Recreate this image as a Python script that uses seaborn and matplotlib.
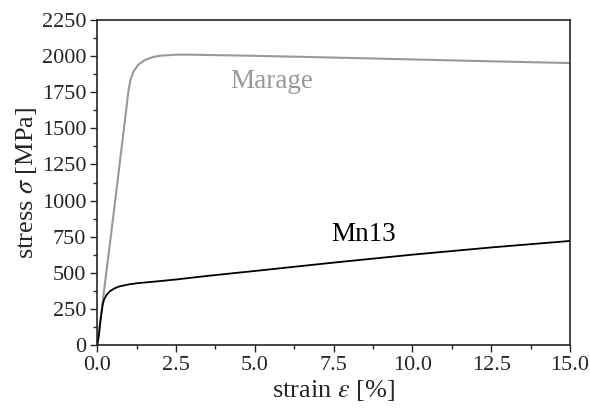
import pandas as pd
import matplotlib.pyplot as plt
import seaborn as sns
from matplotlib.ticker import MultipleLocator

# Data
marage_strain = [0, 0.5, 0.9, 0.98, 1.05, 1.15, 1.3, 1.5, 1.75, 2.0, 2.5, 3.0, 5.0, 7.5, 10.0, 12.5, 15.0]
marage_stress = [0, 880, 1600, 1750, 1835, 1895, 1942, 1973, 1994, 2004, 2011, 2011, 2003, 1991, 1978, 1965, 1953]

mn13_strain = [0, 0.05, 0.1, 0.17, 0.22, 0.3, 0.4, 0.55, 0.7, 1.0, 1.3, 2.0, 2.5, 3.5, 5.0, 7.5, 10.0, 12.5, 15.0]
mn13_stress = [0, 70, 170, 280, 318, 348, 372, 392, 405, 419, 428, 442, 453, 478, 512, 570, 625, 675, 720]

marage = pd.DataFrame({"strain": marage_strain, "stress": marage_stress})
mn13 = pd.DataFrame({"strain": mn13_strain, "stress": mn13_stress})

sns.set_style("ticks")
plt.rcParams["font.family"] = ["Liberation Serif", "DejaVu Serif"]
plt.rcParams["mathtext.fontset"] = "stix"

fig, ax = plt.subplots(figsize=(5.9, 4.12), dpi=100)
sns.lineplot(data=marage, x="strain", y="stress", color="#999999", linewidth=1.5, ax=ax)
sns.lineplot(data=mn13, x="strain", y="stress", color="black", linewidth=1.3, ax=ax)

ax.text(5.55, 1825, "Marage", color="#999999", fontsize=19.5, ha="center", va="center")
ax.text(8.45, 765, "Mn13", color="black", fontsize=19.5, ha="center", va="center")

ax.set_xlim(0, 15)
ax.set_ylim(0, 2250)
ax.xaxis.set_major_locator(MultipleLocator(2.5))
ax.xaxis.set_minor_locator(MultipleLocator(1.25))
ax.yaxis.set_major_locator(MultipleLocator(250))
ax.yaxis.set_minor_locator(MultipleLocator(125))
ax.tick_params(which="major", length=5, width=1, labelsize=16, direction="out", pad=3)
ax.tick_params(which="minor", length=3, width=1, direction="out")
ax.set_xticklabels([f"{v:.1f}" for v in ax.get_xticks()])

ax.set_xlabel(r"strain $\varepsilon$ [%]", fontsize=19, labelpad=2)
ax.set_ylabel(r"stress $\sigma$ [MPa]", fontsize=19, labelpad=2)
for s in ax.spines.values():
    s.set_linewidth(1.2)

fig.subplots_adjust(left=0.165, right=0.966, top=0.951, bottom=0.163)
plt.savefig("out.png")
